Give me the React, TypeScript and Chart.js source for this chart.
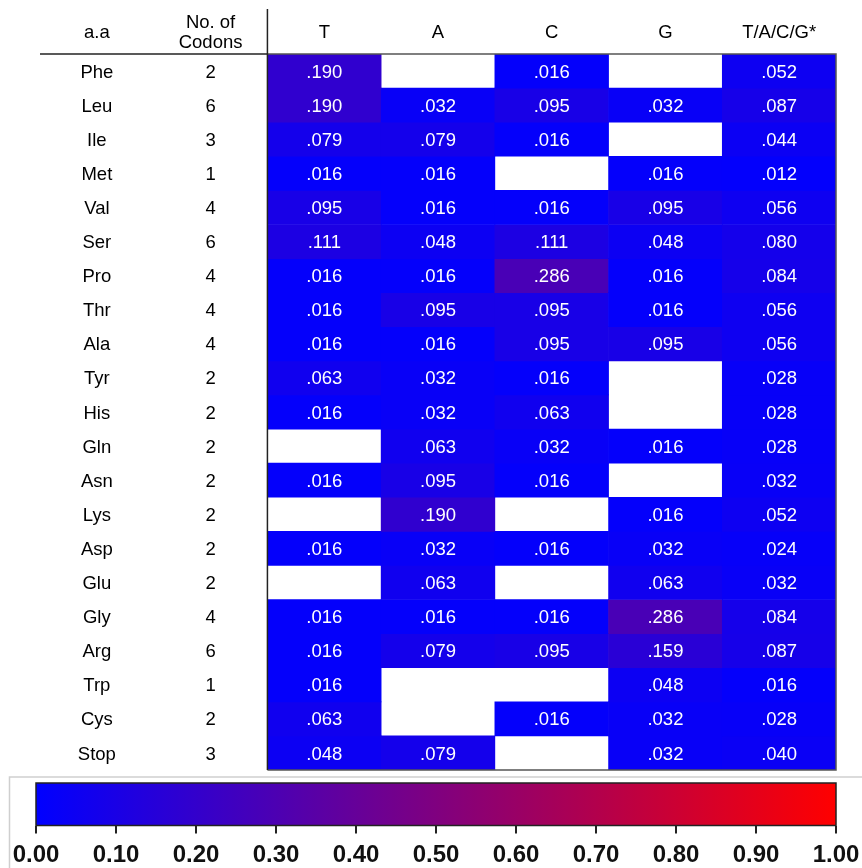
import React, { useEffect, useRef } from 'react';
import { Chart, registerables } from 'chart.js';

Chart.register(...registerables);

const aminoAcids = ['Phe', 'Leu', 'Ile', 'Met', 'Val', 'Ser', 'Pro', 'Thr', 'Ala', 'Tyr', 'His', 'Gln', 'Asn', 'Lys', 'Asp', 'Glu', 'Gly', 'Arg', 'Trp', 'Cys', 'Stop'];
const codonCounts = [2, 6, 3, 1, 4, 6, 4, 4, 4, 2, 2, 2, 2, 2, 2, 2, 4, 6, 1, 2, 3];
const columnHeaders = ['a.a', 'No. of Codons', 'T', 'A', 'C', 'G', 'T/A/C/G*'];
const freqT = [0.190, 0.190, 0.079, 0.016, 0.095, 0.111, 0.016, 0.016, 0.016, 0.063, 0.016, null, 0.016, null, 0.016, null, 0.016, 0.016, 0.016, 0.063, 0.048];
const freqA = [null, 0.032, 0.079, 0.016, 0.016, 0.048, 0.016, 0.095, 0.016, 0.032, 0.032, 0.063, 0.095, 0.190, 0.032, 0.063, 0.016, 0.079, null, null, 0.079];
const freqC = [0.016, 0.095, 0.016, null, 0.016, 0.111, 0.286, 0.095, 0.095, 0.016, 0.063, 0.032, 0.016, null, 0.016, null, 0.016, 0.095, null, 0.016, null];
const freqG = [null, 0.032, null, 0.016, 0.095, 0.048, 0.016, 0.016, 0.095, null, null, 0.016, null, 0.016, 0.032, 0.063, 0.286, 0.159, 0.048, 0.032, 0.032];
const freqAll = [0.052, 0.087, 0.044, 0.012, 0.056, 0.080, 0.084, 0.056, 0.056, 0.028, 0.028, 0.028, 0.032, 0.052, 0.024, 0.032, 0.084, 0.087, 0.016, 0.028, 0.040];
const colorbarMin = 0;
const colorbarMax = 1;
const colorbarStep = 0.1;

const FONT = 'Arial, "Liberation Sans", Helvetica, sans-serif';

function colorFor(v: number): string {
  const t = (v - colorbarMin) / (colorbarMax - colorbarMin);
  const r = Math.round(t * 255);
  return `rgb(${r},0,${255 - r})`;
}

function fmt(v: number): string {
  return v.toFixed(3).replace(/^0/, '');
}

const tablePlugin = {
  id: 'tablePlugin',
  afterDatasetsDraw(chart: any) {
    const { ctx, chartArea, scales } = chart;
    const x = scales.x;
    const y = scales.y;
    ctx.save();
    ctx.font = `18.5px ${FONT}`;
    ctx.textAlign = 'center';
    ctx.textBaseline = 'middle';

    ctx.fillStyle = '#000';
    aminoAcids.forEach((aa, i) => {
      const cy = y.getPixelForValue(i + 0.5) + 1.5;
      ctx.fillText(aa, x.getPixelForValue(0), cy);
      ctx.fillText(String(codonCounts[i]), x.getPixelForValue(1), cy);
    });

    ctx.fillStyle = '#fff';
    chart.data.datasets.forEach((ds: any, di: number) => {
      const meta = chart.getDatasetMeta(di);
      meta.data.forEach((el: any, j: number) => {
        const v = ds.cellValues[j];
        if (v == null) return;
        const p = el.getProps(['x', 'y', 'base'], true);
        ctx.fillText(fmt(v), p.x, (p.y + p.base) / 2 + 1.5);
      });
    });

    ctx.fillStyle = '#000';
    const top = chartArea.top;
    columnHeaders.forEach((h, c) => {
      const cx = x.getPixelForValue(c);
      if (c === 1) {
        ctx.fillText('No. of', cx, top - 31);
        ctx.fillText('Codons', cx, top - 11);
      } else {
        ctx.fillText(h, cx, top - 21);
      }
    });

    const sep = (x.getPixelForValue(1) + x.getPixelForValue(2)) / 2;
    ctx.lineWidth = 1.5;
    ctx.strokeStyle = '#222';
    ctx.beginPath();
    ctx.moveTo(chartArea.left, top);
    ctx.lineTo(sep, top);
    ctx.stroke();
    ctx.strokeStyle = '#555';
    ctx.beginPath();
    ctx.moveTo(sep, top);
    ctx.lineTo(chartArea.right, top);
    ctx.lineTo(chartArea.right, chartArea.bottom);
    ctx.lineTo(sep, chartArea.bottom);
    ctx.stroke();
    ctx.strokeStyle = '#222';
    ctx.beginPath();
    ctx.moveTo(sep, 9);
    ctx.lineTo(sep, chartArea.bottom);
    ctx.stroke();
    ctx.restore();
  },
};

const colorbarPlugin = {
  id: 'colorbarPlugin',
  beforeDatasetsDraw(chart: any) {
    const { ctx, chartArea, width, height } = chart;
    ctx.save();
    ctx.strokeStyle = '#cfcfcf';
    ctx.lineWidth = 1.5;
    ctx.beginPath();
    ctx.moveTo(width, 5);
    ctx.lineTo(9.5, 5);
    ctx.lineTo(9.5, height);
    ctx.stroke();
    const xs = chart.scales.x;
    const x0 = xs.getPixelForValue(colorbarMin);
    const x1 = xs.getPixelForValue(colorbarMax);
    const g = ctx.createLinearGradient(x0, 0, x1, 0);
    g.addColorStop(0, colorFor(colorbarMin));
    g.addColorStop(1, colorFor(colorbarMax));
    ctx.fillStyle = g;
    ctx.fillRect(x0, chartArea.top, x1 - x0, chartArea.bottom - chartArea.top);
    ctx.strokeStyle = '#222';
    ctx.lineWidth = 1.5;
    ctx.strokeRect(x0, chartArea.top, x1 - x0, chartArea.bottom - chartArea.top);
    ctx.restore();
  },
};

export default function App() {
  const mainRef = useRef<HTMLCanvasElement>(null);
  const barRef = useRef<HTMLCanvasElement>(null);

  useEffect(() => {
    document.body.style.margin = '0';
    document.body.style.overflow = 'hidden';
    const cols = [freqT, freqA, freqC, freqG, freqAll];
    const datasets = aminoAcids.map((aa, i) => {
      const values = [null, null, ...cols.map((c) => c[i])];
      return {
        label: aa,
        cellValues: values,
        data: values.map((v) => (v == null ? null : [i, i + 1])),
        backgroundColor: values.map((v) => (v == null ? 'rgba(0,0,0,0)' : colorFor(v))),
        borderWidth: 0,
        grouped: false,
        barPercentage: 1,
        categoryPercentage: 1,
      };
    });
    const main = new Chart(mainRef.current!, {
      type: 'bar',
      data: { labels: columnHeaders, datasets: datasets as any },
      options: {
        animation: false,
        responsive: false,
        layout: { padding: { left: 40, right: 26, top: 54, bottom: 2 } },
        plugins: { legend: { display: false }, tooltip: { enabled: false } },
        scales: {
          x: { type: 'category', display: false },
          y: { type: 'linear', min: 0, max: aminoAcids.length, reverse: true, display: false },
        },
      },
      plugins: [tablePlugin],
    });

    const bar = new Chart(barRef.current!, {
      type: 'scatter',
      data: { datasets: [{ data: [] }] },
      options: {
        animation: false,
        responsive: false,
        layout: { padding: { left: 36, right: 26, top: 11, bottom: 0 } },
        plugins: { legend: { display: false }, tooltip: { enabled: false } },
        scales: {
          x: {
            type: 'linear',
            min: colorbarMin,
            max: colorbarMax,
            afterFit: (scale: any) => {
              scale.paddingLeft = 0;
              scale.paddingRight = 0;
            },
            grid: { drawOnChartArea: false, drawTicks: true, tickLength: 8, color: '#222', lineWidth: 2 },
            border: { display: false },
            ticks: {
              stepSize: colorbarStep,
              autoSkip: false,
              maxRotation: 0,
              padding: 10,
              color: '#111',
              font: { family: FONT, size: 24, weight: 'bold', lineHeight: 1 },
              callback: (v: any) => Number(v).toFixed(2),
            },
          },
          y: { display: false, min: 0, max: 1 },
        },
      },
      plugins: [colorbarPlugin],
    });

    return () => {
      main.destroy();
      bar.destroy();
    };
  }, []);

  return (
    <div style={{ position: 'relative', width: 862, height: 868, background: '#fff' }}>
      <canvas ref={mainRef} width={862} height={772} style={{ position: 'absolute', left: 0, top: 0, width: 862, height: 772 }} />
      <canvas ref={barRef} width={862} height={96} style={{ position: 'absolute', left: 0, top: 772, width: 862, height: 96 }} />
    </div>
  );
}
